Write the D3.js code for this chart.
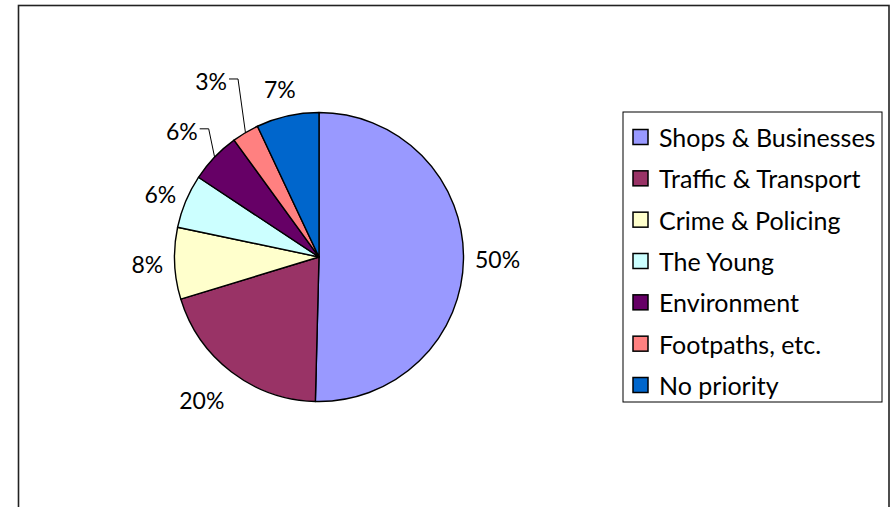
<!DOCTYPE html>
<html>
<head>
<meta charset="utf-8">
<script src="https://d3js.org/d3.v7.min.js"></script>
<style>
body { margin: 0; background: #fff; }
text { font-family: Lato, "Open Sans", sans-serif; fill: #000; }
</style>
</head>
<body>
<svg id="pie" width="894" height="507"></svg>
<script>
// survey answers, share of respondents (%)
const categories = ["Shops & Businesses", "Traffic & Transport", "Crime & Policing",
                    "The Young", "Environment", "Footpaths, etc.", "No priority"];
const values = [50.4, 19.9, 8.0, 6.0, 5.7, 3.0, 7.0];

const colors = ["#9999ff", "#993366", "#ffffcc", "#ccffff", "#660066", "#ff8080", "#0066cc"];
// labels Excel pushed outward (px), and which ones got a leader line
const labelPush = [0, 15, 0, 0, 18, 40, 8];
const withLeader = ["Environment", "Footpaths, etc."];

const svg = d3.select("#pie");
const cx = 319, cy = 257, radius = 144.5, labelGap = 11.5;

// chart area frame
svg.append("rect")
   .attr("x", 18.5).attr("y", 5.5)
   .attr("width", 870.5).attr("height", 530)
   .attr("fill", "none").attr("stroke", "#222").attr("stroke-width", 1.6);

const total = d3.sum(values);
const pieGen = d3.pie().sort(null).value(d => d);
const slices = pieGen(values);
const arcGen = d3.arc().innerRadius(0).outerRadius(radius);

const g = svg.append("g").attr("transform", "translate(" + cx + "," + cy + ")");

g.selectAll("path.slice")
 .data(slices)
 .join("path")
 .attr("class", "slice")
 .attr("d", arcGen)
 .attr("fill", (d, i) => colors[i])
 .attr("stroke", "#000")
 .attr("stroke-width", 1.4)
 .attr("stroke-linejoin", "round");

// percentage labels, placed just outside the rim like Excel's "outside end"
const labels = g.selectAll("text.pct")
 .data(slices)
 .join("text")
 .attr("class", "pct")
 .attr("font-size", 23)
 .attr("text-anchor", "middle")
 .attr("dominant-baseline", "central")
 .text(d => Math.round(d.value / total * 100) + "%");

const capH = 17;
labels.each(function(d, i) {
  const w = this.getComputedTextLength();
  const mid = (d.startAngle + d.endAngle) / 2;
  const rr = radius + labelGap + labelPush[i];
  const sx = Math.sin(mid), sy = -Math.cos(mid);
  const x = sx * rr + sx * w / 2;
  const y = sy * rr + sy * capH / 2;
  d3.select(this).attr("x", x).attr("y", y);
  if (withLeader.includes(categories[i])) {
    const x0 = x + w / 2 + 2, y0 = y - 2;
    const ex = sx * radius, ey = sy * radius;
    g.append("path")
     .attr("d", "M" + x0 + "," + y0 + "H" + (x0 + 9) + "L" + ex + "," + ey)
     .attr("fill", "none")
     .attr("stroke", "#000")
     .attr("stroke-width", 1);
  }
});

// legend
const legend = svg.append("g");
legend.append("rect")
      .attr("x", 623).attr("y", 112)
      .attr("width", 259).attr("height", 290)
      .attr("fill", "#fff").attr("stroke", "#000").attr("stroke-width", 1);

const rowY = d3.scalePoint().domain(categories).range([137, 385]);
const rows = legend.selectAll("g.row")
  .data(categories)
  .join("g")
  .attr("class", "row")
  .attr("transform", d => "translate(0," + rowY(d) + ")");

rows.append("rect")
    .attr("x", 633).attr("y", -7.5)
    .attr("width", 15).attr("height", 15)
    .attr("fill", (d, i) => colors[i])
    .attr("stroke", "#000").attr("stroke-width", 1.5);

rows.append("text")
    .attr("x", 659).attr("y", 0)
    .attr("dominant-baseline", "central")
    .attr("font-size", 25)
    .text(d => d);
</script>
</body>
</html>
